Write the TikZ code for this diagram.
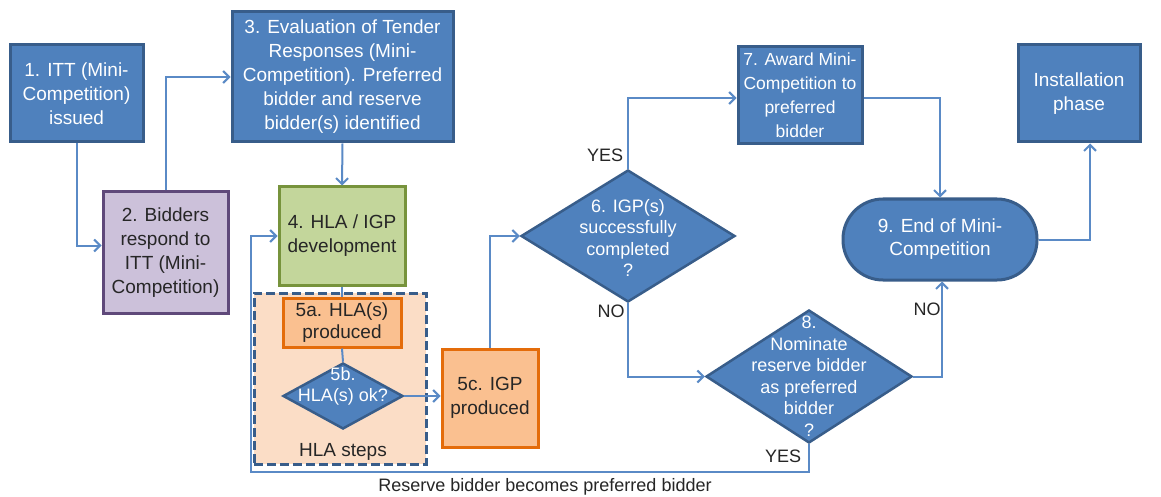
\documentclass[tikz,border=0pt]{standalone}
\usepackage{fontspec}
\setmainfont{Liberation Sans}
\usetikzlibrary{shapes.geometric,arrows.meta,calc}

\definecolor{boxblue}{HTML}{4F81BD}
\definecolor{boxblueedge}{HTML}{385D8A}
\definecolor{lineblue}{HTML}{5A8AC6}
\definecolor{purplefill}{HTML}{CCC1DA}
\definecolor{purpleedge}{HTML}{5F497A}
\definecolor{greenfill}{HTML}{C3D69B}
\definecolor{greenedge}{HTML}{77933C}
\definecolor{orangefill}{HTML}{FAC090}
\definecolor{orangeedge}{HTML}{E46C0A}
\definecolor{peach}{HTML}{FBDDC6}
\definecolor{darktext}{HTML}{262626}

\tikzset{
  box/.style={rectangle, line width=3pt, inner sep=0pt, align=center,
    font=\fontsize{19}{24}\selectfont},
  bluebox/.style={box, fill=boxblue, draw=boxblueedge, text=white},
  purplebox/.style={box, fill=purplefill, draw=purpleedge, text=darktext},
  greenbox/.style={box, fill=greenfill, draw=greenedge, text=darktext},
  orangebox/.style={box, fill=orangefill, draw=orangeedge, text=darktext},
  dia/.style={diamond, fill=boxblue, draw=boxblueedge, line width=2.5pt, inner sep=0pt},
  diatext/.style={align=center, text=white, inner sep=0pt,
    font=\fontsize{18}{21.5}\selectfont},
  lbl/.style={text=darktext, inner sep=0pt, font=\fontsize{18}{22}\selectfont},
  flow/.style={draw=lineblue, line width=2pt,
    -{Straight Barb[length=6pt,width=12pt]}},
  plain/.style={draw=lineblue, line width=2pt},
}

\begin{document}
\begin{tikzpicture}[x=1pt, y=-1pt]
\useasboundingbox[fill=white] (0,0) rectangle (1161,497);

% HLA steps group
\node[draw=boxblueedge, fill=peach, line width=3pt, dash pattern=on 9pt off 4pt,
  minimum width=172pt, minimum height=171pt, inner sep=0pt] (hla) at (340,378.5) {};
\node[lbl, font=\fontsize{19}{22}\selectfont] (hlalbl) at (343,452) {HLA steps};

% process boxes
\node[bluebox, minimum width=133pt, minimum height=97pt] (n1) at (76.5,93.5)
  {1. ITT (Mini-\\Competition)\\issued};
\node[bluebox, minimum width=221pt, minimum height=130pt] (n3) at (342.5,77)
  {3. Evaluation of Tender\\Responses (Mini-\\Competition). Preferred\\bidder and reserve\\bidder(s) identified};
\node[purplebox, minimum width=125pt, minimum height=121pt] (n2) at (165.5,252.5)
  {2. Bidders\\respond to\\ITT (Mini-\\Competition)};
\node[greenbox, minimum width=126pt, minimum height=98pt] (n4) at (342,236)
  {4. HLA / IGP\\development};
\node[orangebox, minimum width=118pt, minimum height=49pt,
  font=\fontsize{19}{22}\selectfont] (n5a) at (342,322.5)
  {5a. HLA(s)\\produced};
\node[orangebox, minimum width=96pt, minimum height=98pt] (n5c) at (490,398)
  {5c. IGP\\produced};
\node[bluebox, minimum width=124pt, minimum height=97pt,
  font=\fontsize{17.5}{24}\selectfont] (n7) at (800,95)
  {7. Award Mini-\\Competition to\\preferred\\bidder};
\node[bluebox, minimum width=122pt, minimum height=97pt] (ni) at (1079,93.5)
  {Installation\\phase};
\node[bluebox, rounded corners=40pt, minimum width=194pt, minimum height=81pt,
  font=\fontsize{19}{23}\selectfont] (n9) at (940,239.5)
  {9. End of Mini-\\Competition};

% decisions
\node[dia, minimum width=120pt, minimum height=66pt] (n5b) at (343,396) {};
\node[diatext, font=\fontsize{18}{21}\selectfont] (t5b) at (343,386) {5b.\\HLA(s) ok?};
\node[dia, minimum width=214pt, minimum height=132pt] (n6) at (628,236) {};
\node[diatext] (t6) at (628,238) {6. IGP(s)\\successfully\\completed\\?};
\node[dia, minimum width=206pt, minimum height=133pt] (n8) at (809,376.5) {};
\node[diatext] (t8) at (809,376) {8.\\Nominate\\reserve bidder\\as preferred\\bidder\\?};

% connectors
\draw[flow] (n1.south) |- ([yshift=7pt]n2.west);
\draw[flow] (n2.north) |- (n3.west);
\draw[flow] (n3.south) -- (n4.north);
\draw[plain] (n4.south) -- (n5a.north);
\draw[plain] (n5a.south) -- (n5b.north);
\draw[flow] (n5b.east) -- (n5b.east -| n5c.west);
\draw[flow] (n5c.north) |- (n6.west);
\draw[flow] (n6.north) |- ([yshift=-3pt]n7.west);
\draw[flow] ([yshift=-3pt]n7.east) -| (n9.north);
\draw[flow] (n6.south) |- (n8.west);
\draw[flow] (n8.east) -| ([xshift=2pt]n9.south);
\draw[flow] (n9.east) -| ([xshift=11pt]ni.south);
\coordinate (loop) at (251,472);
\draw[flow] (n8.south) |- (loop) |- (n4.west);

% branch labels
\node[lbl] (yes6) at (605,155) {YES};
\node[lbl] (no6) at (611,311) {NO};
\node[lbl] (no8) at (927,309) {NO};
\node[lbl] (yes8) at (783,456) {YES};
\node[lbl] (loopl) at (545,487) {Reserve bidder becomes preferred bidder};
\end{tikzpicture}
\end{document}
